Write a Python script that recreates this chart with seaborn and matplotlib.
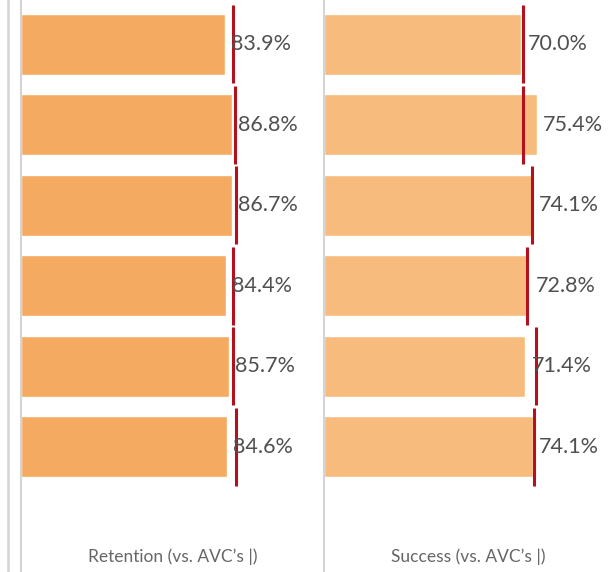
import seaborn as sns
import matplotlib.pyplot as plt
import pandas as pd
import numpy as np

# rows (headers are hidden in the original view)
rows = ['Row 1', 'Row 2', 'Row 3', 'Row 4', 'Row 5', 'Row 6']

retention = [83.9, 86.8, 86.7, 84.4, 85.7, 84.6]
retention_avc = [87.1, 87.9, 88.5, 87.2, 87.1, 88.6]

success = [70.0, 75.4, 74.1, 72.8, 71.4, 74.1]
success_avc = [70.7, 70.6, 73.8, 71.9, 75.1, 74.4]

df = pd.DataFrame({'row': rows,
                   'Retention': retention, 'Retention_avc': retention_avc,
                   'Success': success, 'Success_avc': success_avc})

sns.set_theme(style='white')
plt.rcParams['font.family'] = ['Lato', 'DejaVu Sans']

fig = plt.figure(figsize=(6.12, 5.72), dpi=100)

W, H = 612, 572
panels = [
    # measure, bar colour, left px, right px, x max, title
    ('Retention', '#F4AA61', 21, 324, 124.7, 'Retention (vs. AVC\u2019s |)'),
    ('Success', '#F8BB7E', 324, 612, 102.1, 'Success (vs. AVC\u2019s |)'),
]

for col, colour, x0, x1, xmax, title in panels:
    ax = fig.add_axes([x0 / W, 0, (x1 - x0) / W, 1])
    sns.barplot(data=df, y='row', x=col, color=colour, width=0.755,
                orient='h', saturation=1, ax=ax)
    pos = np.arange(len(rows))
    ax.vlines(df[col + '_avc'], pos - 0.485, pos + 0.485, color='#B3111E', lw=2.2, zorder=3)
    for i, v in enumerate(df[col]):
        ax.annotate(f'{v:.1f}%', (v, i), xytext=(4.5, 0), textcoords='offset points',
                    va='center', ha='left', fontsize=15.5,
                    color='#505050', zorder=4)
    ax.set_xlim(0, xmax)
    ax.set_ylim((H - 44.3) / 80.5, -44.3 / 80.5)
    ax.set_xticks([])
    ax.set_yticks([])
    ax.set_xlabel('')
    ax.set_ylabel('')
    for s in ['top', 'right', 'bottom']:
        ax.spines[s].set_visible(False)
    ax.spines['left'].set_color('#D4D4D4')
    ax.spines['left'].set_linewidth(1.5)
    ax.text(0.5, (H - 557) / H, title, transform=ax.transAxes, ha='center', va='center',
            fontsize=12.5, color='#666666')

# outer pane border on the far left
fig.add_artist(plt.Line2D([7.5 / W, 7.5 / W], [0, 1], color='#D4D4D4', lw=1.8))

fig.savefig('out.png', dpi=100)
